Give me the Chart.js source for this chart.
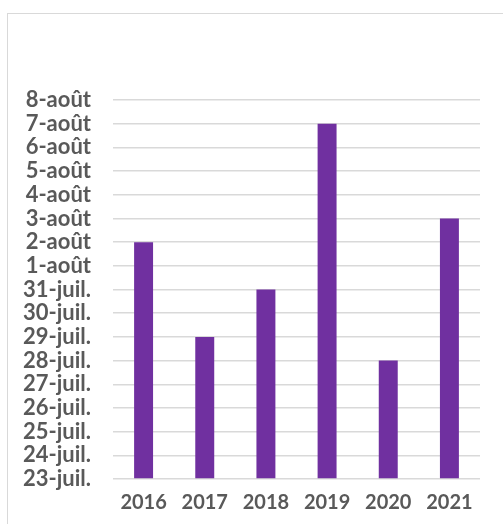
<!DOCTYPE html>
<html>
<head>
<meta charset="utf-8">
<script src="https://cdn.jsdelivr.net/npm/chart.js@4"></script>
<style>
  html, body { margin: 0; padding: 0; overflow: hidden; background: #fff; }
  #frame {
    position: absolute; left: 7px; top: 13px;
    width: 520px; height: 540px;
    border: 1px solid #d9d9d9;
  }
  #chart { position: absolute; left: 0; top: 0; }
</style>
</head>
<body>
<div id="frame">
  <canvas id="chart" width="495" height="510"></canvas>
</div>
<script>
// years on the x axis
const years = ['2016', '2017', '2018', '2019', '2020', '2021'];
// dates shown on the y axis, bottom to top
const dateTicks = [
  '23-juil.', '24-juil.', '25-juil.', '26-juil.', '27-juil.', '28-juil.',
  '29-juil.', '30-juil.', '31-juil.', '1-août', '2-août', '3-août',
  '4-août', '5-août', '6-août', '7-août', '8-août'
];
// date reached each year
const dates = ['2-août', '29-juil.', '31-juil.', '7-août', '28-juil.', '3-août'];

const values = dates.map(d => dateTicks.indexOf(d));

var ctx = document.getElementById('chart').getContext('2d');

const config = {
  type: 'bar',
  data: {
    labels: years,
    datasets: [{
      data: values,
      backgroundColor: '#7030a0',
      barPercentage: 0.31,
      categoryPercentage: 1
    }]
  },
  options: {
    responsive: false,
    animation: false,
    layout: { padding: { top: 86, right: 23, left: 0, bottom: 0 } },
    plugins: {
      legend: { display: false },
      title: { display: false },
      tooltip: { enabled: false }
    },
    scales: {
      x: {
        grid: { display: false, drawTicks: false },
        border: { display: false },
        ticks: { color: '#595959', font: { family: 'Lato', size: 20, weight: 'bold' }, padding: 12 },
        afterFit: function (scale) { scale.height = 45; }
      },
      y: {
        min: 0,
        max: dateTicks.length - 1,
        grid: { color: '#d9d9d9', lineWidth: 1.5, drawTicks: false },
        border: { display: false },
        ticks: {
          stepSize: 1,
          autoSkip: false,
          color: '#595959',
          font: { family: 'Lato', size: 22, weight: 'bold' },
          padding: 22,
          callback: function (v) { return dateTicks[v]; }
        },
        afterFit: function (scale) { scale.width = 105; }
      }
    }
  }
};

var chart = new Chart(ctx, config);
</script>
</body>
</html>
